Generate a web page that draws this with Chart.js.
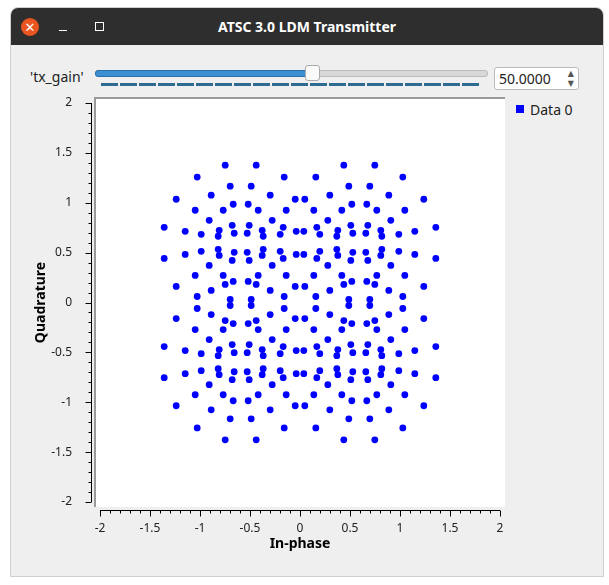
<!DOCTYPE html>
<html><head><meta charset="utf-8">
<script src="https://cdn.jsdelivr.net/npm/chart.js@4"></script>
<style>
body{margin:0;width:609px;height:585px;background:#fff;font-family:"Noto Sans","DejaVu Sans",sans-serif;position:relative;overflow:hidden}
.win{position:absolute;left:10px;top:7px;width:594px;height:570px;background:#efefef;border-radius:8px 8px 0 0;border:1px solid #cfcfcf;box-sizing:border-box;overflow:hidden}
.tb{position:absolute;left:0;top:0;width:100%;height:37px;background:#2e2e2e;color:#fff;font-weight:bold;font-size:14px;text-align:center;line-height:37px}
.cl{position:absolute;left:10px;top:10px;width:18px;height:18px;border-radius:50%;background:#e95420;color:#fff;font-size:13px;line-height:18px;text-align:center;font-weight:normal}
.mn{position:absolute;left:48px;top:22px;width:8px;height:1px;background:#fff}
.mx{position:absolute;left:84px;top:14px;width:7px;height:7px;border:1px solid #fff}
.abs{position:absolute}
#c{position:absolute;left:0;top:0;z-index:5}
</style></head><body>
<div class="win">
 <div class="tb">ATSC 3.0 LDM Transmitter<div class="cl">✕</div><div class="mn"></div><div class="mx"></div></div>
</div>
<div class="abs" style="left:30px;top:67px;font-size:14px;color:#222">'tx_gain'</div>
<div class="abs" style="left:95px;top:70px;width:391px;height:5px;background:#d8d8d8;border:1px solid #bbb;border-radius:3px"></div>
<div class="abs" style="left:95px;top:70px;width:215px;height:5px;background:#3d8fd4;border:1px solid #2a6fa8;border-radius:3px"></div>
<div class="abs" style="left:305px;top:65px;width:13px;height:14px;background:#fafafa;border:1px solid #aaa;border-radius:3px"></div>
<div class="abs" style="left:101px;top:83px;width:380px;height:3px;background:repeating-linear-gradient(90deg,#2f6a90 0 17px,transparent 17px 19px)"></div>
<div class="abs" style="left:494px;top:67px;width:85px;height:23px;background:#fff;border:1px solid #bbb;border-radius:3px;box-sizing:border-box;font-size:14px;line-height:21px;padding-left:4px;color:#222">50.0000<span style="position:absolute;right:4px;top:0;font-size:8px;line-height:10px;color:#555">▲<br>▼</span></div>
<div class="abs" style="left:94px;top:97px;width:411px;height:410px;background:#fff;border-left:2px solid #9a9a9a;border-top:2px solid #9a9a9a;box-sizing:border-box"></div>
<div class="abs" style="left:516px;top:105px;width:8px;height:8px;background:#0000ff"></div>
<div class="abs" style="left:530px;top:100px;font-size:14px;color:#222">Data 0</div>
<canvas id="c" width="609" height="585"></canvas>
<script>
// First-quadrant constellation points (constellation is symmetric in I and Q)
const qI = [0.438,0.748,0.158,1.028,0.488,0.698,0.298,0.888,0.048,1.238,0.518,0.668,0.138,0.418,0.768,1.048,0.278,0.908,0.508,0.678,0.168,1.358,0.378,0.808,0.038,1.148,0.528,0.658,0.198,0.988,0.368,0.818,
            0.368,0.818,0.198,0.988,0.528,0.658,0.038,1.148,0.378,0.808,0.168,1.358,0.508,0.678,0.278,0.908,0.138,0.418,0.768,1.048,0.518,0.668,0.438,0.748,0.048,1.238,0.298,0.888,0.158,1.028,0.488,0.698];
const qQ = [1.377,1.377,1.257,1.257,1.166,1.166,1.076,1.076,1.035,1.035,0.985,0.985,0.925,0.925,0.925,0.925,0.824,0.824,0.774,0.774,0.754,0.754,0.724,0.724,0.714,0.714,0.694,0.694,0.683,0.683,0.664,0.664,
            0.533,0.533,0.513,0.513,0.503,0.503,0.482,0.482,0.472,0.472,0.442,0.442,0.422,0.422,0.372,0.372,0.271,0.271,0.271,0.271,0.211,0.211,0.181,0.181,0.161,0.161,0.121,0.121,0.060,0.060,0.030,0.030];
const signs = [[1,1],[-1,1],[-1,-1],[1,-1]];
const tickVals = [-2,-1.5,-1,-0.5,0,0.5,1,1.5,2];
const points = [];
signs.forEach(([sx,sy])=>qI.forEach((v,i)=>points.push({x:sx*v,y:sy*qQ[i]})));

const axesPlugin = {id:'axes',afterDraw(ch){
  const c=ch.ctx, xs=ch.scales.x, ys=ch.scales.y;
  c.save(); c.strokeStyle='#000'; c.lineWidth=1;
  const ax=91.5, ay=510.5;
  c.beginPath(); c.moveTo(ax,ys.getPixelForValue(2)); c.lineTo(ax,ys.getPixelForValue(-2));
  c.moveTo(xs.getPixelForValue(-2),ay); c.lineTo(xs.getPixelForValue(2),ay);
  for(let k=-20;k<=20;k++){const v=k/10, L=(k%5===0)?6:3;
    const py=Math.round(ys.getPixelForValue(v))+0.5; c.moveTo(ax,py); c.lineTo(ax-L,py);
    const px=Math.round(xs.getPixelForValue(v))+0.5; c.moveTo(px,ay); c.lineTo(px,ay+L);}
  c.stroke(); c.restore();
}};
new Chart(document.getElementById('c'),{
  type:'scatter',
  data:{datasets:[{label:'Data 0',data:points,backgroundColor:'#0000ff',borderColor:'#0000ff',pointRadius:3.4,pointHoverRadius:3.4,borderWidth:0}]},
  options:{responsive:false,animation:false,events:[],
    layout:{padding:{left:33,right:109,top:103,bottom:33}},
    plugins:{legend:{display:false},tooltip:{enabled:false}},
    scales:{
      x:{min:-2,max:2,afterFit(s){s.height=50;},afterBuildTicks(s){s.ticks=tickVals.map(v=>({value:v}));},
         grid:{display:false},border:{display:false},
         ticks:{padding:11,color:'#222',font:{size:12,family:'Noto Sans'},maxRotation:0,callback:v=>String(v)},
         title:{display:true,text:'In-phase',color:'#000',font:{size:14,weight:'bold',family:'Noto Sans'},padding:0}},
      y:{min:-2,max:2,afterFit(s){s.width=67;},afterBuildTicks(s){s.ticks=tickVals.map(v=>({value:v}));},
         grid:{display:false},border:{display:false},
         ticks:{padding:20,color:'#222',font:{size:12,family:'Noto Sans'},callback:v=>String(v)},
         title:{display:true,text:'Quadrature',color:'#000',font:{size:14,weight:'bold',family:'Noto Sans'},padding:0}}
    }},
  plugins:[axesPlugin]
});
</script>
</body></html>
